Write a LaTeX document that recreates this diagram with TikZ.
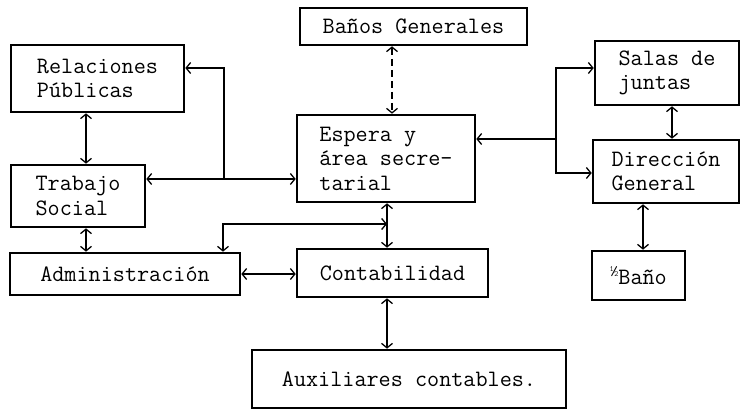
\documentclass[tikz,border=0pt]{standalone}
\usepackage{fontspec}
\usetikzlibrary{arrows.meta}
\tikzset{
  box/.style={draw, line width=2.6pt, inner sep=0pt, align=left, font=\ttfamily\fontsize{23.5}{24.5}\selectfont},
  conn/.style={line width=1.3pt, {Straight Barb[length=4.5pt,width=11pt]}-{Straight Barb[length=4.5pt,width=11pt]}},
  oneway/.style={line width=1.3pt, -{Straight Barb[length=4.5pt,width=11pt]}}
}
\begin{document}
\begin{tikzpicture}[x=1pt,y=-1pt]
\useasboundingbox (0,0) rectangle (741,414);
% boxes
\node[box, minimum width=173pt, minimum height=67pt] (rp) at (97.5,78.5) {Relaciones\\Públicas};
\node[box, minimum width=134pt, minimum height=62pt] (ts) at (78,196) {Trabajo\\Social};
\node[box, minimum width=230pt, minimum height=42pt] (adm) at (125,274) {Administración};
\node[box, minimum width=191pt, minimum height=48pt] (con) at (392.5,273) {Contabilidad};
\node[box, minimum width=314pt, minimum height=58pt] (aux) at (409,379) {Auxiliares contables.};
\node[box, minimum width=227pt, minimum height=37pt] (ban) at (413.5,26.5) {Baños Generales};
\node[box, minimum width=178pt, minimum height=87pt] (esp) at (386,158.5) {Espera y\\área secre-\\tarial};
\node[box, minimum width=144pt, minimum height=64pt] (sal) at (667,73) {Salas de\\juntas};
\node[box, minimum width=146pt, minimum height=63pt] (dir) at (666,171.5) {Dirección\\General};
\node[box, minimum width=93pt, minimum height=49pt] (bano) at (638.5,275.5) {\raisebox{8pt}{\fontsize{16}{16}\selectfont ½}Baño};
% helper coordinates
\coordinate (x86) at (86,0);
\coordinate (x392) at (392,0);
\coordinate (x387) at (387,0);
\coordinate (x672) at (672,0);
\coordinate (x643) at (643,0);
\coordinate (x223) at (223,0);
\coordinate (y68) at (0,68);
\coordinate (y173) at (0,173);
\coordinate (y179) at (0,179);
\coordinate (y274) at (0,274);
\coordinate (j1) at (224,179);
\coordinate (j2) at (556,139);
\coordinate (j3) at (387,224);
% connectors
\draw[conn, dash pattern=on 7pt off 4pt] (ban.south -| x392) -- (esp.north -| x392);
\draw[conn] (rp.south -| x86) -- (ts.north -| x86);
\draw[conn] (ts.south -| x86) -- (adm.north -| x86);
\draw[conn] (ts.east |- y179) -- (esp.west |- y179);
\draw[oneway] (j1) |- (rp.east |- y68);
\draw[oneway] (j2) -- (esp.east |- j2);
\draw[oneway] (j2) |- (sal.west |- y68);
\draw[oneway] (j2) |- (dir.west |- y173);
\draw[conn] (sal.south -| x672) -- (dir.north -| x672);
\draw[conn] (dir.south -| x643) -- (bano.north -| x643);
\draw[conn] (esp.south -| x387) -- (con.north -| x387);
\draw[conn] (adm.north -| x223) |- (j3);
\draw[conn] (adm.east |- y274) -- (con.west |- y274);
\draw[conn] (con.south -| x387) -- (aux.north -| x387);
\end{tikzpicture}
\end{document}
